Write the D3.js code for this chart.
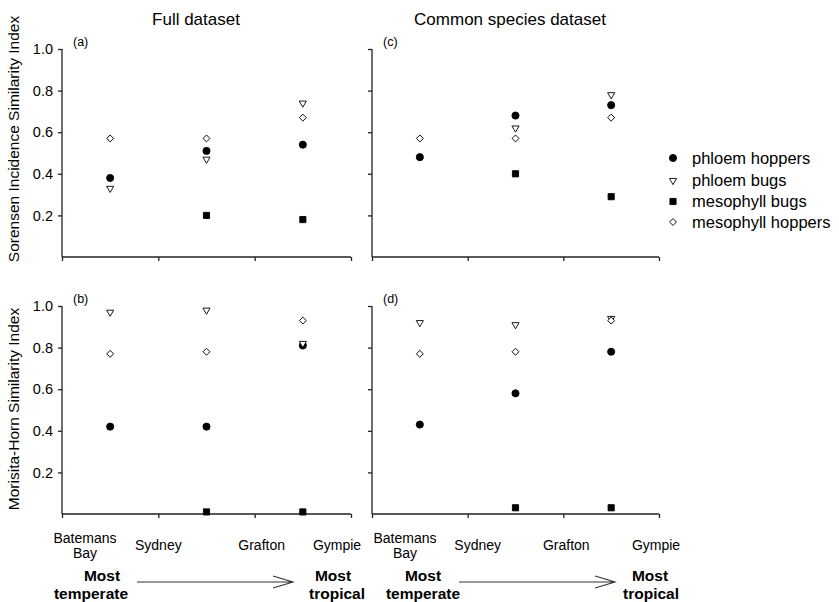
<!DOCTYPE html>
<html>
<head>
<meta charset="utf-8">
<script src="https://cdn.jsdelivr.net/npm/d3@7"></script>
<style>
  html, body { margin: 0; padding: 0; background: #fff; }
  svg { display: block; font-family: "Liberation Sans", Arial, sans-serif; }
</style>
</head>
<body>
<svg id="chart" width="839" height="602"></svg>
<script>
// Sites along the climatic gradient (x-axis tick labels)
const sites = [["Batemans", "Bay"], ["Sydney"], ["Grafton"], ["Gympie"]];
// Comparisons plotted between consecutive sites
const comparisons = [0, 1, 2];
const yTicks = [0.2, 0.4, 0.6, 0.8, 1.0];

const seriesNames = ["phloem hoppers", "phloem bugs", "mesophyll bugs", "mesophyll hoppers"];

// Sorensen incidence similarity, full dataset (a)
const sorensenFull = {
  "phloem hoppers":    [0.38, 0.51, 0.54],
  "phloem bugs":       [0.33, 0.47, 0.74],
  "mesophyll bugs":    [null, 0.20, 0.18],
  "mesophyll hoppers": [0.57, 0.57, 0.67]
};
// Sorensen incidence similarity, common species dataset (c)
const sorensenCommon = {
  "phloem hoppers":    [0.48, 0.68, 0.73],
  "phloem bugs":       [null, 0.62, 0.78],
  "mesophyll bugs":    [null, 0.40, 0.29],
  "mesophyll hoppers": [0.57, 0.57, 0.67]
};
// Morisita-Horn similarity, full dataset (b)
const morisitaFull = {
  "phloem hoppers":    [0.42, 0.42, 0.81],
  "phloem bugs":       [0.97, 0.98, 0.82],
  "mesophyll bugs":    [null, 0.01, 0.01],
  "mesophyll hoppers": [0.77, 0.78, 0.93]
};
// Morisita-Horn similarity, common species dataset (d)
const morisitaCommon = {
  "phloem hoppers":    [0.43, 0.58, 0.78],
  "phloem bugs":       [0.92, 0.91, 0.94],
  "mesophyll bugs":    [null, 0.03, 0.03],
  "mesophyll hoppers": [0.77, 0.78, 0.93]
};

const svg = d3.select("#chart");
const ink = "#000";
const axisInk = "#222";

// Marker styles per series (diamond = square turned 45 degrees)
const markers = {
  "phloem hoppers":    { type: d3.symbolCircle,   size: 40, fill: ink,    rotate: 0 },
  "phloem bugs":       { type: d3.symbolTriangle, size: 22, fill: "#fff", rotate: 180 },
  "mesophyll bugs":    { type: d3.symbolSquare,   size: 38, fill: ink,    rotate: 0 },
  "mesophyll hoppers": { type: d3.symbolSquare,   size: 24, fill: "#fff", rotate: 45 }
};

const columns = [
  { x0: 62,  x1: 351, labelShift: [23, 0, 7, -14], showY: true },
  { x0: 372, x1: 659, labelShift: [33, 10, 3, -3], showY: false }
];
const rows = [
  { y0: 257, y1: 49 },
  { y0: 514, y1: 306 }
];

const panels = [
  { col: 0, row: 0, tag: "(a)", data: sorensenFull },
  { col: 1, row: 0, tag: "(c)", data: sorensenCommon },
  { col: 0, row: 1, tag: "(b)", data: morisitaFull },
  { col: 1, row: 1, tag: "(d)", data: morisitaCommon }
];

panels.forEach(p => {
  const c = columns[p.col], r = rows[p.row];
  const x = d3.scaleLinear().domain([0, sites.length - 1]).range([c.x0, c.x1]);
  const y = d3.scaleLinear().domain([0, 1]).range([r.y0, r.y1]);
  const g = svg.append("g");

  // y axis
  const yAxis = d3.axisLeft(y).tickValues(yTicks).tickSize(4).tickPadding(5)
    .tickFormat(c.showY ? d3.format(".1f") : "");
  const ya = g.append("g").attr("transform", `translate(${c.x0},0)`).call(yAxis);
  ya.select(".domain").attr("d", `M0,${r.y0}V${r.y1}`);

  // x axis
  const xAxis = d3.axisBottom(x).tickValues(d3.range(sites.length)).tickSize(4).tickFormat("");
  const xa = g.append("g").attr("transform", `translate(0,${r.y0})`).call(xAxis);
  xa.select(".domain").attr("d", `M${c.x0},0H${c.x1}`);

  g.selectAll(".domain, .tick line").attr("stroke", axisInk).attr("stroke-width", 1.3);
  g.selectAll(".tick text").attr("font-size", 14.5).attr("fill", ink)
    .attr("font-family", "Liberation Sans, Arial, sans-serif");

  // panel tag
  g.append("text").attr("x", c.x0 + 11).attr("y", r.y1 - 3)
    .attr("font-size", 12.5).attr("fill", ink).text(p.tag);

  // markers, drawn in legend order so later series sit on top
  seriesNames.forEach(name => {
    const m = markers[name];
    const sym = d3.symbol().type(m.type).size(m.size);
    const pts = comparisons.map(i => ({ i, v: p.data[name][i] })).filter(d => d.v != null);
    g.selectAll(null).data(pts).enter().append("path")
      .attr("d", sym)
      .attr("transform", d => `translate(${x(d.i + 0.5)},${y(d.v)}) rotate(${m.rotate})`)
      .attr("fill", m.fill)
      .attr("stroke", ink)
      .attr("stroke-width", 0.9);
  });

  // site labels below the bottom row
  if (p.row === 1) {
    sites.forEach((lines, i) => {
      const cx = x(i) + c.labelShift[i];
      const t = g.append("text").attr("text-anchor", "middle").attr("font-size", 14).attr("fill", ink);
      if (lines.length === 2) {
        t.append("tspan").attr("x", cx).attr("y", 543).text(lines[0]);
        t.append("tspan").attr("x", cx).attr("y", 558).text(lines[1]);
      } else {
        t.append("tspan").attr("x", cx).attr("y", 550).text(lines[0]);
      }
    });
  }
});

// Column headings
svg.append("text").attr("x", 196).attr("y", 25).attr("text-anchor", "middle")
  .attr("font-size", 17).attr("fill", ink).text("Full dataset");
svg.append("text").attr("x", 510).attr("y", 25).attr("text-anchor", "middle")
  .attr("font-size", 17).attr("fill", ink).text("Common species dataset");

// Y-axis titles
svg.append("text").attr("transform", "translate(19,139) rotate(-90)").attr("text-anchor", "middle")
  .attr("font-size", 15.5).attr("fill", ink).text("Sorensen Incidence Similarity Index");
svg.append("text").attr("transform", "translate(19,409) rotate(-90)").attr("text-anchor", "middle")
  .attr("font-size", 15.5).attr("fill", ink).text("Morisita-Horn Similarity Index");

// Gradient annotation: Most temperate -> Most tropical
const gradients = [
  { a: [102, 91], b: [333, 337], line: [137, 293] },
  { a: [423, 423], b: [650, 651], line: [459, 615] }
];
gradients.forEach(gd => {
  const bold = (x, yy, s) => svg.append("text").attr("x", x).attr("y", yy)
    .attr("text-anchor", "middle").attr("font-size", 15.5).attr("font-weight", "bold")
    .attr("fill", ink).text(s);
  bold(gd.a[0], 581, "Most");
  bold(gd.a[1], 598.5, "temperate");
  bold(gd.b[0], 581, "Most");
  bold(gd.b[1], 598.5, "tropical");
  const [l, rt] = gd.line, ay = 582;
  svg.append("path")
    .attr("d", `M${l},${ay}H${rt}M${rt - 20},${ay - 6}L${rt},${ay}L${rt - 20},${ay + 6}`)
    .attr("fill", "none").attr("stroke", "#333").attr("stroke-width", 1.1);
});

// Legend
const legend = svg.append("g");
const legendY = [158, 180.5, 201.5, 222];
seriesNames.forEach((name, i) => {
  const m = markers[name];
  legend.append("path")
    .attr("d", d3.symbol().type(m.type).size(m.size))
    .attr("transform", `translate(673,${legendY[i]}) rotate(${m.rotate})`)
    .attr("fill", m.fill).attr("stroke", ink).attr("stroke-width", 0.9);
  legend.append("text").attr("x", 692).attr("y", legendY[i]).attr("dy", "0.35em")
    .attr("font-size", 16.5).attr("fill", ink).text(name);
});
</script>
</body>
</html>
